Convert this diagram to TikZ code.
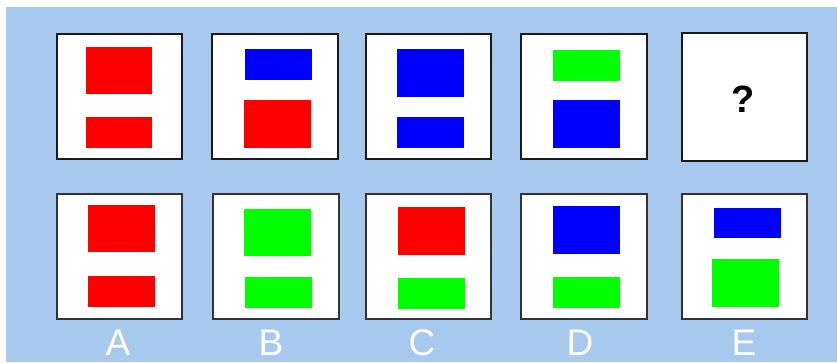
\documentclass[tikz,border=0pt]{standalone}
\usepackage{fontspec}
\setmainfont{Liberation Sans}
\definecolor{bgblue}{RGB}{168,201,238}
\definecolor{rd}{RGB}{255,0,0}
\definecolor{bl}{RGB}{0,0,255}
\definecolor{gr}{RGB}{0,255,0}
\definecolor{frameA}{RGB}{25,25,30}
\definecolor{frameB}{RGB}{50,50,55}
\tikzset{
  panel/.style={fill=white,draw=frameA,line width=1.3pt},
  panelb/.style={fill=white,draw=frameB,line width=1.3pt},
  lbl/.style={anchor=base,text=white,font=\fontsize{37}{37}\selectfont,inner sep=0pt,text depth=0pt,text height=26pt}
}
\begin{document}
\begin{tikzpicture}[x=1pt,y=-1pt]
\useasboundingbox (0,0) rectangle (837,362);
\fill[white] (0,0) rectangle (837,362);
\fill[bgblue] (6,7) rectangle (837,362);
% top row
\draw[panel] (57,34) rectangle (182,159);
\fill[rd] (86,47) rectangle (152,94);
\fill[rd] (86,117) rectangle (152,148);

\draw[panel] (212,34) rectangle (338,159);
\fill[bl] (245,49) rectangle (312,80);
\fill[rd] (244,100) rectangle (311,148);

\draw[panel] (366,34) rectangle (491,159);
\fill[bl] (397,49) rectangle (464,97);
\fill[bl] (397,117) rectangle (464,148);

\draw[panel] (521,34) rectangle (647,159);
\fill[gr] (553,50) rectangle (620,81);
\fill[bl] (553,100) rectangle (620,148);

\draw[panel] (682,33) rectangle (807,161);
\node[anchor=base,inner sep=0pt,font=\fontsize{38}{38}\selectfont\bfseries] (q) at (743,112) {?};

% bottom row
\draw[panelb] (57,194) rectangle (182,319);
\fill[rd] (88,205) rectangle (155,252);
\fill[rd] (88,276) rectangle (155,307);

\draw[panelb] (213,194) rectangle (339,319);
\fill[gr] (244,209) rectangle (311,256);
\fill[gr] (245,277) rectangle (312,308);

\draw[panelb] (366,194) rectangle (491,319);
\fill[rd] (398,207) rectangle (465,255);
\fill[gr] (398,278) rectangle (465,309);

\draw[panelb] (521,194) rectangle (647,319);
\fill[bl] (553,206) rectangle (620,254);
\fill[gr] (553,277) rectangle (620,308);

\draw[panelb] (682,194) rectangle (807,319);
\fill[bl] (714,208) rectangle (781,238);
\fill[gr] (712,259) rectangle (779,307);

% labels
\node[lbl] (la) at (118,355) {A};
\node[lbl] (lb) at (271,355) {B};
\node[lbl] (lc) at (422,355) {C};
\node[lbl] (ld) at (580,355) {D};
\node[lbl] (le) at (744,355) {E};
\end{tikzpicture}
\end{document}
